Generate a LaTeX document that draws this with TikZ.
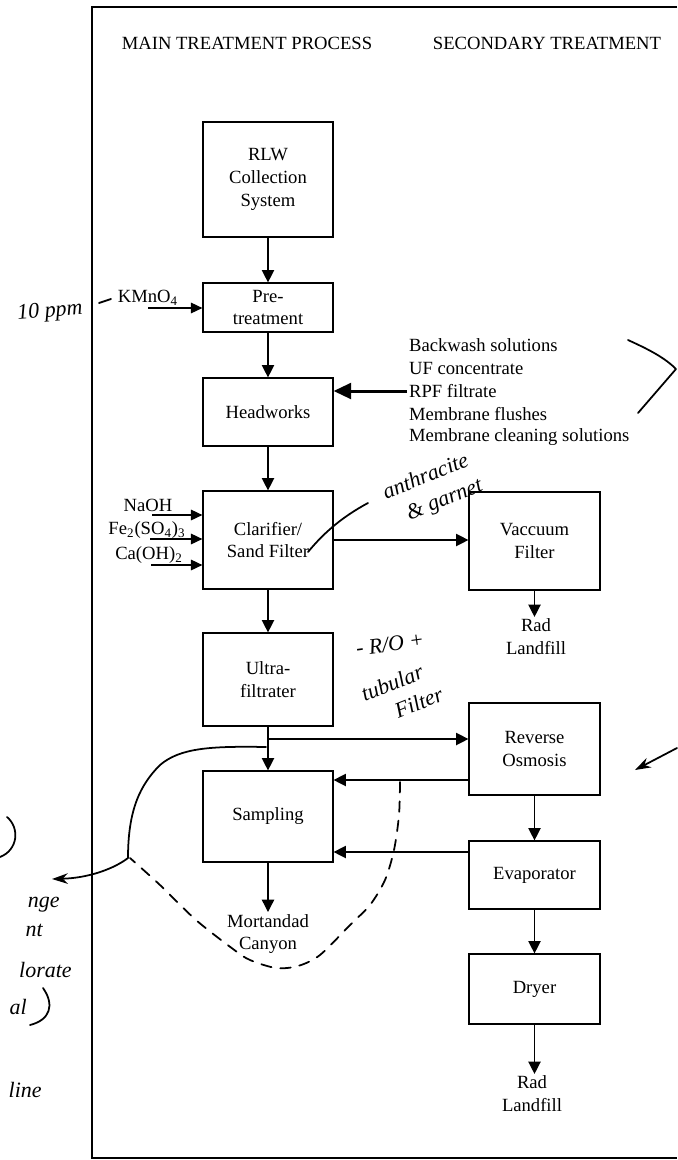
\documentclass[tikz,border=0pt]{standalone}
\usepackage{fontspec}
\setmainfont{Liberation Serif}
\usetikzlibrary{arrows.meta}

\begin{document}
\begin{tikzpicture}[x=0.02cm,y=-0.02cm,
  every node/.style={font=\fontsize{10.6}{13}\selectfont, inner sep=1pt, align=center},
  box/.style={draw, line width=0.7pt, minimum width=2.6cm},
  sbox/.style={box, minimum width=2.62cm},
  flow/.style={line width=0.75pt, -{Triangle[length=7pt,width=7pt]}},
  feed/.style={line width=0.75pt, -{Triangle[length=6.5pt,width=6pt]}},
  hand/.style={line width=1pt, line cap=round, line join=round},
  handtext/.style={font=\fontsize{12.5}{16}\selectfont\itshape, inner sep=0pt}]

\useasboundingbox (0,0) rectangle (677,1160);

% Cornice
\draw[line width=1.3pt] (677,7) -- (92,7) -- (92,1158) -- (677,1158);

% Titoli delle colonne
\node (hdrMain) at (247,43) {MAIN TREATMENT PROCESS};
\node (hdrSec) at (547,43) {SECONDARY TREATMENT};

% Colonna principale
\node[box, minimum height=2.3cm] (rlw) at (268,179.5) {RLW\\Collection\\System};
\node[box, minimum height=0.98cm] (pretreat) at (268,307.5) {Pre-\\treatment};
\node[box, minimum height=1.36cm] (headworks) at (268,412) {Headworks};
\node[box, minimum height=1.96cm] (clarifier) at (268,540) {Clarifier/\\Sand Filter};
\node[box, minimum height=1.86cm] (ultra) at (268,679.5) {Ultra-\\filtrater};
\node[box, minimum height=1.82cm] (sampling) at (268,816.5) {Sampling};
\node (canyon) at (268,934) {Mortandad\\Canyon};

% Colonna secondaria
\node[sbox, minimum height=1.96cm] (vacuum) at (534.5,541) {Vaccuum\\Filter};
\node (radA) at (536,637) {Rad\\Landfill};
\node[sbox, minimum height=1.84cm] (osmosis) at (534.5,749) {Reverse\\Osmosis};
\node[sbox, minimum height=1.36cm] (evap) at (534.5,875) {Evaporator};
\node[sbox, minimum height=1.4cm] (dryer) at (534.5,989) {Dryer};
\node (radB) at (532,1094) {Rad\\Landfill};

% Reagenti
\node (kmno) at (148,298) {KMnO\textsubscript{4}};
\node (naoh) at (148,505) {NaOH};
\node (fesulf) at (147,530) {Fe\textsubscript{2}(SO\textsubscript{4})\textsubscript{3}};
\node (caoh) at (149,555) {Ca(OH)\textsubscript{2}};
\coordinate (kmnoIn) at (148,308);
\coordinate (naohIn) at (152,515);
\coordinate (fesulfIn) at (150,539);
\coordinate (caohIn) at (151,565);

% Ricircoli verso Headworks
\foreach \txt [count=\i] in {Backwash solutions, UF concentrate, RPF filtrate,
    Membrane flushes, Membrane cleaning solutions}
  \node[anchor=west] (rec\i) at (407,{322+23*\i}) {\txt};

% Frecce
\draw[flow] (rlw) -- (pretreat);
\draw[flow] (pretreat) -- (headworks);
\draw[flow] (headworks) -- (clarifier);
\draw[flow] (clarifier) -- (ultra);
\draw[flow] (ultra) -- (sampling);
\draw[flow] (sampling) -- (canyon);
\draw[flow] (clarifier.east) -- (clarifier.east -| vacuum.west);
\draw[flow] (vacuum.south) -- (vacuum.south |- radA.north);
\draw[flow] (osmosis) -- (evap);
\draw[flow] (evap) -- (dryer);
\draw[flow] (dryer.south) -- (dryer.south |- radB.north);

\coordinate (split) at (268,739);
\coordinate (roOut) at (469,780);
\coordinate (evOut) at (469,852);
\draw[flow] (split) -- (split -| osmosis.west);
\draw[flow] (roOut) -- (roOut -| sampling.east);
\draw[flow] (evOut) -- (evOut -| sampling.east);

\draw[feed] (kmnoIn) -- (kmnoIn -| pretreat.west);
\draw[feed] (naohIn) -- (naohIn -| clarifier.west);
\draw[feed] (fesulfIn) -- (fesulfIn -| clarifier.west);
\draw[feed] (caohIn) -- (caohIn -| clarifier.west);

\draw[line width=1.7pt, -{Triangle[length=10pt,width=9pt]}]
  (rec3.west) -- (rec3.west -| headworks.east);

% Note a mano
\node[handtext, rotate=5] (ppm) at (50,312) {10 ppm};
\draw[hand] (99,303) -- (111,299);

\draw[hand] (308,552) .. controls (322,535) and (340,518) .. (368,503);
\node[handtext, rotate=22, align=left] (anthr) at (433,490)
  {anthracite\\\hspace{8pt}\& garnet};

\node[handtext, rotate=8] (roNote) at (390,644) {- R/O +};
\node[handtext, rotate=22, align=left] (tubNote) at (402,694)
  {tubular\\\hspace{14pt}Filter};

\draw[hand] (628,340) .. controls (650,350) and (665,358) .. (676,369) -- (638,413);
\draw[hand, -{Stealth[length=9pt,width=6pt]}] (677,748) -- (635,770);

% Scarico (linea continua e tratteggiata)
\draw[hand, -{Stealth[length=9pt,width=6pt]}] (266,747)
  .. controls (210,746) and (180,748) .. (160,765)
  .. controls (140,785) and (128,810) .. (128,858)
  .. controls (115,868) and (90,878) .. (52,879);
\draw[hand, dash pattern=on 6pt off 5pt] plot[smooth] coordinates {(400,782) (399,815)
  (394,850) (385,880) (370,905) (350,925) (320,955) (298,966) (276,968) (250,960)
  (233,949) (196,920) (160,885) (130,858)};

% Margine sinistro
\draw[hand] (7,817) .. controls (20,828) and (18,850) .. (0,857);
\node[handtext, anchor=east] (m1) at (60,905) {nge};
\node[handtext, anchor=east] (m2) at (43,930) {nt};
\node[handtext, anchor=east] (m3) at (72,970) {lorate};
\node[handtext, anchor=east] (m4) at (27,1007) {al};
\draw[hand] (43,988) .. controls (55,1005) and (50,1020) .. (30,1025);
\node[handtext, anchor=east] (m5) at (42,1090) {line};

\end{tikzpicture}
\end{document}
